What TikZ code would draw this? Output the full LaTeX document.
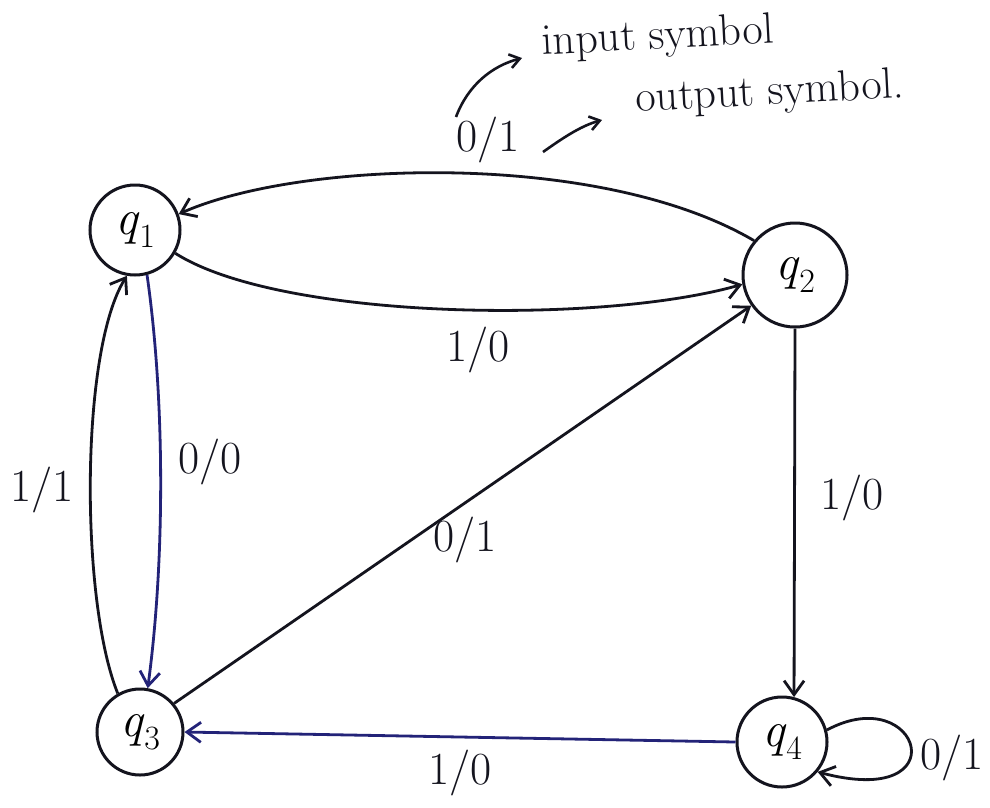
\documentclass[tikz,border=0pt]{standalone}
\usepackage{fontspec}
\usetikzlibrary{arrows.meta}
\definecolor{ink}{RGB}{20,20,30}
\definecolor{inkblue}{RGB}{35,35,120}
\newcommand{\stlab}[1]{\textit{q}\raisebox{-0.25em}{\fontsize{34}{40}\selectfont #1}}
\begin{document}
\begin{tikzpicture}[x=1pt,y=-1pt,
  state/.style={circle,draw=ink,line width=3pt,inner sep=0pt,font=\fontsize{50}{56}\selectfont},
  edge/.style={draw=ink,line width=2.8pt,-{Straight Barb[length=14pt,width=20pt,line width=2.8pt]}},
  lab/.style={font=\fontsize{46}{52}\selectfont,text=ink},
  note/.style={font=\fontsize{44}{50}\selectfont,text=ink},
  notearr/.style={draw=ink,line width=2.6pt,-{Straight Barb[length=10pt,width=14pt,line width=2.6pt]}}]
\useasboundingbox (0,0) rectangle (990,807);
\fill[white] (0,0) rectangle (990,807);

\node[state,minimum size=90pt] (q1) at (135,230) {\stlab{1}};
\node[state,minimum size=104pt] (q2) at (795,275) {\stlab{2}};
\node[state,minimum size=86pt] (q3) at (140,732) {\stlab{3}};
\node[state,minimum size=90pt] (q4) at (782,742) {\stlab{4}};

% q2 -> q1 (0/1)
\draw[edge] (q2.140) .. controls (600,150) and (300,160) .. (q1.20);
% q1 -> q2 (1/0)
\draw[edge] (q1.-30) .. controls (280,320) and (600,325) .. (q2.190);
% q3 -> q1 (1/1)
\draw[edge] (q3.120) .. controls (80,600) and (80,350) .. (q1.-100);
% q1 -> q3 (0/0)
\draw[edge,draw=inkblue] (q1.-75) .. controls (165,400) and (165,560) .. (q3.80);
% q3 -> q2 (0/1)
\draw[edge] (q3.40) -- (q2.215);
% q2 -> q4 (1/0)
\draw[edge] (q2.-90) -- (q4.75);
% q4 -> q3 (1/0)
\draw[edge,draw=inkblue] (q4.180) -- (q3.0);
% q4 self loop (0/1)
\draw[edge] (q4.15) .. controls (920,680) and (960,810) .. (q4.-40);

\node[lab] (l12) at (478,350) {1/0};
\node[lab] (l31) at (42,490) {1/1};
\node[lab] (l13) at (210,462) {0/0};
\node[lab] (l32) at (465,540) {0/1};
\node[lab] (l24) at (852,498) {1/0};
\node[lab] (l43) at (460,773) {1/0};
\node[lab] (l44) at (952,758) {0/1};

% legend
\node[lab] (l21) at (488,140) {0/1};
\node[note,rotate=3] (inp) at (658,38) {input symbol};
\node[note,rotate=3] (outp) at (770,94) {output symbol.};
\coordinate (a1) at (456,117);
\coordinate (a2) at (522,58);
\coordinate (b1) at (543,152);
\coordinate (b2) at (602,120);
\draw[notearr] (a1) .. controls (468,85) and (492,66) .. (a2);
\draw[notearr] (b1) .. controls (560,140) and (580,126) .. (b2);
\end{tikzpicture}
\end{document}
